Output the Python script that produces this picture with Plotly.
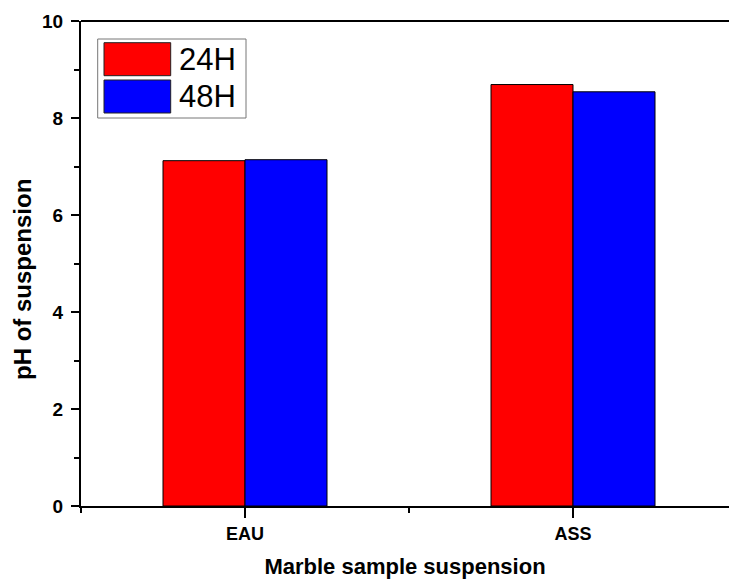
import plotly.graph_objects as go

categories = ["EAU", "ASS"]
cat_pos = [1, 2]
series_names = ["24H", "48H"]
values_24h = [7.12, 8.69]
values_48h = [7.14, 8.54]
colors = ["#ff0000", "#0000ff"]
y_ticks = [0, 2, 4, 6, 8, 10]

FONT = "Liberation Sans, Arial, sans-serif"

fig = go.Figure()
for name, vals, col in zip(series_names, [values_24h, values_48h], colors):
    fig.add_trace(go.Bar(
        x=cat_pos, y=vals, name=name,
        marker=dict(color=col, line=dict(color="black", width=1)),
        showlegend=False,
    ))

W, H = 729, 579
L, R, T, B = 81, 0, 21, 73
pw, ph = W - L - R, H - T - B

def px(x):
    return (x - L) / pw

def py(y):
    return (H - B - y) / ph

# top frame line (right side of the frame falls outside the picture)
shapes = [dict(type="line", xref="paper", yref="paper", x0=0, x1=1, y0=1, y1=1,
               line=dict(color="black", width=2), layer="above")]
# legend with large swatches
shapes.append(dict(type="rect", xref="paper", yref="paper",
                   x0=px(97.7), x1=px(246), y0=py(118), y1=py(39),
                   line=dict(color="#777777", width=1), fillcolor="white", layer="above"))
annotations = []
sw_tops = [42.7, 80]
for name, col, top in zip(series_names, colors, sw_tops):
    shapes.append(dict(type="rect", xref="paper", yref="paper",
                       x0=px(104), x1=px(170.7), y0=py(top + 33), y1=py(top),
                       line=dict(color="#222222", width=1), fillcolor=col, layer="above"))
    annotations.append(dict(xref="paper", yref="paper", x=px(177), y=py(top + 16.5),
                            text=name, showarrow=False, xanchor="left", yanchor="middle",
                            font=dict(family=FONT, size=31, color="black")))

# y-axis title (placed like the original, slightly below axis centre)
annotations.append(dict(xref="paper", yref="paper", x=px(22), y=py(280),
                        text="pH of suspension", textangle=-90, showarrow=False,
                        xanchor="center", yanchor="middle",
                        font=dict(family=FONT, size=24, weight="bold", color="black")))

fig.update_layout(
    width=W, height=H,
    margin=dict(l=L, r=R, t=T, b=B, pad=0),
    paper_bgcolor="white", plot_bgcolor="white",
    barmode="group", bargap=0.5, bargroupgap=0,
    shapes=shapes, annotations=annotations,
    font=dict(family=FONT, color="black"),
)

fig.update_xaxes(
    range=[0.5, 0.5 + pw / 328.0],
    tickvals=cat_pos, ticktext=categories,
    ticks="outside", ticklen=10, tickwidth=1.5, tickcolor="black",
    minor=dict(tickvals=[0.5, 1.5, 2.5], ticks="outside", ticklen=5, tickwidth=1.5, tickcolor="black"),
    showline=True, linecolor="black", linewidth=2, mirror=False,
    showgrid=False, zeroline=False,
    tickfont=dict(family=FONT, size=18, weight="bold", color="black"),
    title=dict(text="Marble sample suspension", standoff=16,
               font=dict(family=FONT, size=22, weight="bold", color="black")),
)
fig.update_yaxes(
    range=[0, 10],
    tickvals=y_ticks,
    ticks="outside", ticklen=8, tickwidth=1.5, tickcolor="black",
    minor=dict(tickvals=[1, 3, 5, 7, 9], ticks="outside", ticklen=5, tickwidth=1.5, tickcolor="black"),
    showline=True, linecolor="black", linewidth=2, mirror=False,
    showgrid=False, zeroline=False,
    ticklabelstandoff=4,
    tickfont=dict(family=FONT, size=19, weight="bold", color="black"),
)

fig.write_html("out.html")
